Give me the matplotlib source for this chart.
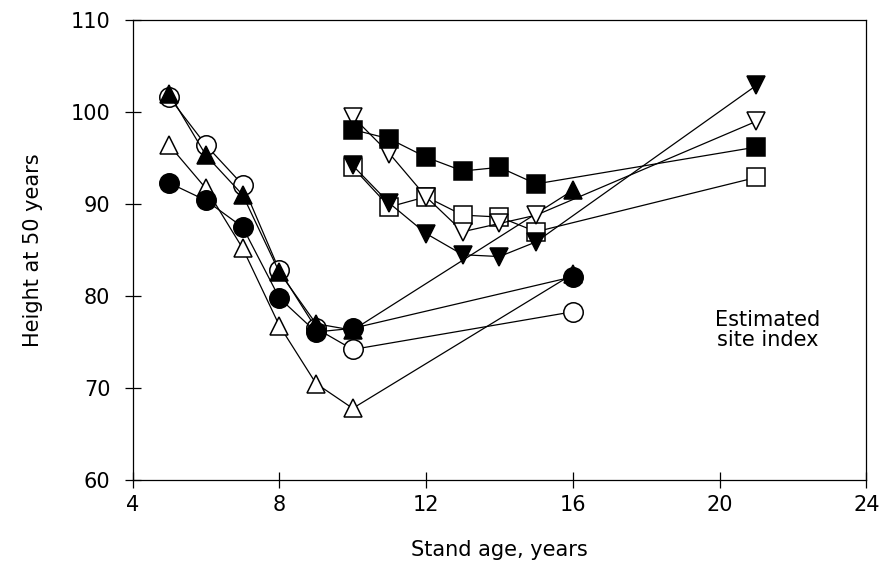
import matplotlib
matplotlib.use("Agg")
import matplotlib.pyplot as plt

# stand age (years) and estimated site index (height at 50 years)
age_young = [5, 6, 7, 8, 9, 10, 16]
filled_circle = [92.3, 90.4, 87.5, 79.8, 76.1, 76.5, 82.1]
open_circle = [101.6, 96.4, 92.1, 82.8, 76.5, 74.2, 78.3]
open_tri_up = [96.4, 91.7, 85.2, 76.8, 70.5, 67.8, 82.4]
filled_tri_up = [102.0, 95.3, 91.0, 82.6, 77.0, 76.3, 91.5]

age_old = [10, 11, 12, 13, 14, 15, 21]
filled_square = [98.1, 97.1, 95.1, 93.6, 94.0, 92.2, 96.2]
open_square = [94.0, 89.7, 90.8, 88.8, 88.6, 87.0, 92.9]
open_tri_down = [99.5, 95.5, 90.8, 87.0, 87.9, 88.8, 99.0]
filled_tri_down = [94.2, 90.1, 86.8, 84.5, 84.3, 85.9, 102.9]

series = [
    (age_young, open_tri_up, "^", "white"),
    (age_young, open_circle, "o", "white"),
    (age_young, filled_circle, "o", "black"),
    (age_young, filled_tri_up, "^", "black"),
    (age_old, open_square, "s", "white"),
    (age_old, open_tri_down, "v", "white"),
    (age_old, filled_tri_down, "v", "black"),
    (age_old, filled_square, "s", "black"),
]

fig = plt.figure(figsize=(8.84, 5.75), dpi=100)
ax = fig.add_axes([0.150, 0.165, 0.830, 0.800])

for i, (x, y, m, face) in enumerate(series):
    ms = {"o": 14, "s": 13, "^": 13, "v": 13}[m]
    ax.plot(x, y, color="black", linewidth=0.9, marker=m, markersize=ms,
            markerfacecolor=face, markeredgecolor="black", markeredgewidth=1.1,
            zorder=2 + i)

ax.set_xlim(4, 24)
ax.set_ylim(60, 110)
ax.set_xticks([4, 8, 12, 16, 20, 24])
ax.set_yticks([60, 70, 80, 90, 100, 110])
ax.tick_params(direction="inout", length=12, width=0.9, labelsize=15,
               top=False, right=False)
ax.tick_params(axis="x", pad=5)
ax.tick_params(axis="y", pad=10)
for s in ax.spines.values():
    s.set_linewidth(0.9)

ax.set_xlabel("Stand age, years", fontsize=15, labelpad=18)
ax.set_ylabel("Height at 50 years", fontsize=15, labelpad=20)
ax.text(21.3, 76.3, "Estimated\nsite index", fontsize=15, ha="center",
        va="center", linespacing=1.0)

fig.savefig("out.png", dpi=100)
